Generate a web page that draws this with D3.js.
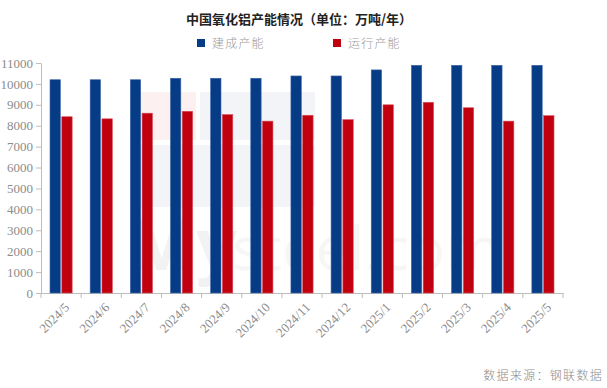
<!DOCTYPE html>
<html>
<head>
<meta charset="utf-8">
<script src="https://cdn.jsdelivr.net/npm/d3@7"></script>
<style>
  body { margin: 0; background: #fff; }
  svg { display: block; }
  .tick text { font-family: "Liberation Serif", "DejaVu Serif", serif; fill: #8c8c8c; }
</style>
</head>
<body>
<script>
var width = 607,
    height = 388;

// data
var months = ["2024/5", "2024/6", "2024/7", "2024/8", "2024/9", "2024/10", "2024/11",
              "2024/12", "2025/1", "2025/2", "2025/3", "2025/4", "2025/5"];
var builtCapacity = [10200, 10200, 10200, 10270, 10270, 10270, 10380,
                     10380, 10670, 10890, 10890, 10890, 10890];
var runningCapacity = [8430, 8330, 8600, 8690, 8530, 8220, 8500,
                       8290, 9000, 9120, 8860, 8220, 8480];
var seriesNames = ["建成产能", "运行产能"];
var seriesColors = ["#063c86", "#c1000f"];
var yTicks = [0, 1000, 2000, 3000, 4000, 5000, 6000, 7000, 8000, 9000, 10000, 11000];

var margin = {top: 63, right: 44, bottom: 95, left: 41};

var svg = d3.select("body").append("svg")
    .attr("width", width)
    .attr("height", height);

// faint watermark
var wm = svg.append("g").attr("opacity", 0.5);
wm.append("rect").attr("x", 138).attr("y", 92).attr("width", 58).attr("height", 48).attr("fill", "#fbe3e3");
wm.append("rect").attr("x", 200).attr("y", 92).attr("width", 115).attr("height", 48).attr("fill", "#e6eaf3");
wm.append("rect").attr("x", 138).attr("y", 145).attr("width", 177).attr("height", 62).attr("fill", "#e6eaf3");
wm.append("text").attr("x", 128).attr("y", 270)
    .attr("font-family", "Open Sans, sans-serif").attr("font-size", 72).attr("font-weight", 700)
    .attr("fill", "#e6e6e6").text("My");
wm.append("text").attr("x", 232).attr("y", 270)
    .attr("font-family", "Open Sans, sans-serif").attr("font-size", 60)
    .attr("fill", "#eeeeee").text("steel.com");

var x = d3.scaleBand()
    .domain(months)
    .range([margin.left, width - margin.right]);

var y = d3.scaleLinear()
    .domain([0, 11000])
    .range([height - margin.bottom, margin.top]);

// title
svg.append("text")
    .attr("x", 299)
    .attr("y", 24)
    .attr("text-anchor", "middle")
    .attr("font-family", "Noto Sans CJK SC")
    .attr("font-size", 13)
    .attr("font-weight", 700)
    .attr("fill", "#222")
    .text("中国氧化铝产能情况（单位：万吨/年）");

// legend
var legendX = [197, 333];
seriesNames.forEach(function(name, i) {
  svg.append("rect")
      .attr("x", legendX[i]).attr("y", 39)
      .attr("width", 8).attr("height", 8)
      .attr("fill", seriesColors[i]);
  svg.append("text")
      .attr("x", legendX[i] + 15).attr("y", 48)
      .attr("font-family", "Noto Sans CJK SC")
      .attr("font-size", 12)
      .attr("font-weight", 300)
      .attr("letter-spacing", 1.2)
      .attr("fill", "#9a9a9a")
      .text(name);
});

// y axis
var yAxis = svg.append("g")
    .attr("transform", "translate(" + margin.left + ",0)")
    .call(d3.axisLeft(y).tickValues(yTicks).tickFormat(d3.format("d"))
      .tickSize(5).tickSizeOuter(0).tickPadding(3));
yAxis.selectAll("text").attr("font-size", 13);
yAxis.selectAll("line, path").attr("stroke", "#bdbdbd");

// x axis
var xAxis = svg.append("g")
    .attr("transform", "translate(0," + (height - margin.bottom) + ")")
    .call(d3.axisBottom(x).tickSize(0).tickSizeOuter(0));
xAxis.select(".domain").attr("stroke", "#bdbdbd");
xAxis.selectAll(".tick line").remove();
xAxis.selectAll(".tick text")
    .attr("font-size", 13)
    .attr("text-anchor", "end")
    .attr("dy", 0)
    .attr("transform", "translate(7,13) rotate(-45)");

// band boundary ticks
var boundaries = months.map(function(m) { return x(m); }).concat([x.range()[1]]);
svg.append("g").selectAll("line")
    .data(boundaries)
    .enter()
    .append("line")
    .attr("x1", function(d) { return d; })
    .attr("x2", function(d) { return d; })
    .attr("y1", height - margin.bottom)
    .attr("y2", height - margin.bottom + 5)
    .attr("stroke", "#bdbdbd");

// bars
var inner = d3.scaleBand()
    .domain([0, 1])
    .range([9, x.bandwidth() - 9])
    .paddingInner(0.12);

var series = [builtCapacity, runningCapacity];
series.forEach(function(values, s) {
  svg.append("g").selectAll("rect")
      .data(values)
      .enter()
      .append("rect")
      .attr("x", function(d, i) { return x(months[i]) + inner(s); })
      .attr("y", function(d) { return y(d); })
      .attr("width", inner.bandwidth())
      .attr("height", function(d) { return y(0) - y(d); })
      .attr("fill", seriesColors[s])
      .attr("stroke", s === 0 ? "#3d68a8" : "#d94a55")
      .attr("stroke-width", 0.6);
});

// source
svg.append("text")
    .attr("x", 603)
    .attr("y", 380)
    .attr("text-anchor", "end")
    .attr("font-family", "Noto Sans CJK SC")
    .attr("font-size", 12)
    .attr("font-weight", 300)
    .attr("letter-spacing", 1.3)
    .attr("fill", "#8a8a8a")
    .text("数据来源：钢联数据");
</script>
</body>
</html>
